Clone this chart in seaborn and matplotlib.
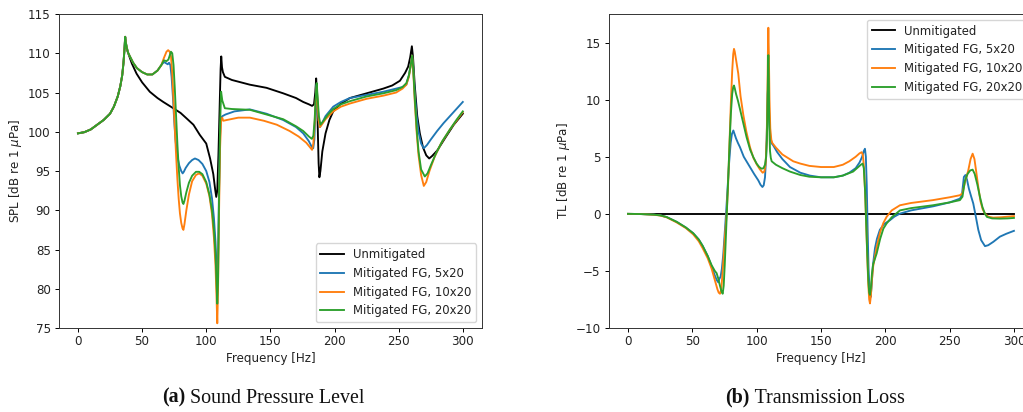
import matplotlib
matplotlib.use("Agg")
import matplotlib.pyplot as plt
import pandas as pd
import seaborn as sns

# ---------------------------------------------------------------
# Sound pressure level [dB re 1 uPa] versus frequency [Hz]
# ---------------------------------------------------------------
spl_common_f = [0, 5, 10, 15, 20, 25, 28, 31, 33, 34.5, 35.5, 36.3, 36.8]
spl_common_v = [99.8, 99.95, 100.3, 100.9, 101.5, 102.3, 103.2, 104.5, 105.8, 107.2, 108.8, 110.6, 112.1]

spl_unmit_f = [37.3, 38, 39.2, 42, 45.7, 50, 56, 62, 66.5, 74.3, 80, 84.7, 90, 95, 100, 103, 105.5, 107,
               107.8, 108.6, 109.5, 110.5, 111.2, 111.7, 112.3, 113, 114.5, 120, 134, 147, 160, 170, 175.6,
               180, 182.5, 184, 185, 185.7, 186.3, 187, 187.6, 188.2, 189, 190.5, 193, 196, 199, 205, 212,
               225, 238, 245, 251, 255, 257.4, 259, 260.3, 261.2, 262.5, 264.5, 266.5, 269, 271.5, 273.8,
               276, 280, 287, 293, 300]
spl_unmit_v = [111.3, 110.6, 110.0, 108.7, 107.4, 106.3, 105.1, 104.3, 103.8, 103.0, 102.4, 101.7, 100.9,
               99.6, 98.5, 96.6, 94.6, 92.6, 91.7, 92.5, 97.0, 103.5, 108.0, 109.6, 108.2, 107.6, 107.0,
               106.6, 106.0, 105.6, 104.9, 104.3, 103.8, 103.5, 103.3, 103.5, 105.0, 106.8, 105.0, 100.0,
               96.0, 94.2, 95.0, 97.5, 99.8, 101.5, 102.6, 103.6, 104.3, 104.9, 105.5, 105.9, 106.5, 107.5,
               108.3, 109.5, 110.9, 109.5, 106.0, 102.0, 99.8, 98.0, 97.0, 96.6, 96.9, 97.6, 99.4, 100.9,
               102.3]

spl_mit_head_f = [37.3, 38, 39, 40.5, 43, 46, 50, 54, 58, 62, 65]
spl_mit_head_v = [111.4, 110.8, 110.1, 109.6, 108.8, 108.1, 107.6, 107.3, 107.3, 107.8, 108.5]

spl_5x20_f = [67, 69, 70, 71, 72, 73, 74, 75, 76, 77, 78, 79, 80.5, 81.6, 82.5, 84, 86.5, 89, 91.2, 94, 97,
              100, 102.5, 104.5, 106, 107.2, 108, 108.6, 109.2, 110, 110.8, 111.6, 112.7, 115, 122, 134,
              147, 160, 170, 175.6, 180, 182.5, 183.4, 184.3, 185.2, 186, 186.7, 187.6, 188.6, 190, 193,
              199, 205, 212, 225, 238, 248, 253, 256, 258, 259.5, 260.5, 261.3, 262.5, 264, 265.5, 267.5,
              269.6, 272, 275, 280, 285, 290, 295, 300]
spl_5x20_v = [108.9, 108.7, 108.6, 108.8, 108.5, 107.0, 104.5, 101.5, 99.0, 97.5, 96.5, 95.7, 95.0, 94.7,
              94.9, 95.4, 96.0, 96.4, 96.6, 96.4, 95.9, 95.0, 93.6, 91.5, 89.0, 86.0, 83.0, 81.0, 84.0,
              93.0, 99.5, 101.8, 102.0, 102.2, 102.6, 102.85, 102.3, 101.5, 100.6, 99.8, 98.8, 98.0, 97.9,
              99.0, 103.0, 106.0, 104.0, 101.5, 100.6, 101.0, 102.0, 103.2, 103.8, 104.3, 104.7, 105.1,
              105.5, 105.7, 106.0, 107.2, 108.6, 109.7, 108.3, 105.0, 102.0, 100.0, 98.5, 97.9, 98.3, 99.0,
              100.1, 101.1, 102.0, 102.9, 103.8]

spl_10x20_f = [67, 69, 70.3, 71.5, 72.5, 73.5, 74.5, 75.5, 76.5, 77.5, 78.5, 79.5, 80.5, 81.5, 82.2, 83, 84.5,
               86.5, 89, 92, 94.5, 97, 100, 102.5, 104.5, 106, 107.2, 108, 108.6, 109.2, 110, 110.8, 111.6,
               112.5, 113.2, 116, 125, 134, 145, 155, 165, 172, 178, 181, 182.5, 183.5, 184.5, 185.5, 186.2,
               186.8, 187.6, 188.6, 190, 193, 199, 205, 212, 225, 238, 248, 253, 256, 258, 259.5, 260.5,
               261.3, 262.5, 264, 265.5, 267.5, 269.6, 271.5, 274, 278, 283, 290, 295, 300]
spl_10x20_v = [109.4, 110.2, 110.4, 110.2, 109.6, 107.5, 104.0, 100.5, 97.0, 94.0, 91.5, 89.6, 88.4, 87.7,
               87.5, 88.2, 90.0, 92.0, 93.7, 94.5, 94.7, 94.4, 93.4, 91.8, 89.5, 86.5, 83.0, 79.0, 75.6,
               80.0, 90.0, 98.0, 101.5, 101.8, 101.4, 101.5, 101.8, 101.8, 101.4, 100.9, 100.1, 99.4, 98.6,
               98.0, 97.7, 98.5, 101.0, 104.5, 105.8, 103.5, 101.5, 100.6, 100.9, 101.6, 102.6, 103.2,
               103.6, 104.2, 104.6, 105.0, 105.5, 106.0, 107.0, 108.5, 109.7, 108.0, 104.0, 100.0, 97.0,
               94.5, 93.1, 93.6, 95.0, 96.8, 98.5, 100.3, 101.4, 102.5]

spl_20x20_f = [67, 69, 70.5, 71.5, 72.5, 73.5, 74.5, 75.5, 76.5, 77.5, 78.5, 79.5, 80.5, 81.5, 82.2, 83, 84.5,
               86.5, 89, 92, 94.5, 97, 100, 102.5, 104.5, 106, 107.2, 108, 108.6, 109.2, 110, 110.8, 111.6,
               112.5, 114.5, 120, 134, 147, 160, 170, 175.6, 180, 182.3, 183.5, 184.5, 185.5, 186.1, 186.8,
               187.8, 189, 191, 195, 199, 205, 212, 225, 238, 248, 253, 256, 258, 259.5, 260.5, 261.3,
               262.5, 264, 265.5, 267.5, 270.4, 272.5, 275, 279, 284, 290, 295, 300]
spl_20x20_v = [109.1, 109.0, 109.2, 109.7, 110.2, 110.0, 108.5, 105.5, 102.0, 98.5, 95.5, 93.2, 91.8, 91.0,
               90.8, 91.2, 92.3, 93.5, 94.4, 94.9, 94.9, 94.6, 93.6, 92.0, 90.0, 87.5, 84.5, 81.0, 78.1,
               81.0, 92.0, 101.0, 105.1, 104.0, 103.0, 102.9, 102.8, 102.2, 101.6, 100.7, 100.1, 99.4,
               99.1, 99.5, 101.5, 104.8, 106.2, 104.5, 102.0, 100.9, 101.3, 102.2, 102.9, 103.5, 103.9,
               104.5, 104.9, 105.3, 105.7, 106.2, 107.2, 108.6, 109.7, 108.3, 104.5, 100.5, 97.5, 95.2,
               94.3, 94.7, 95.7, 97.2, 98.8, 100.3, 101.5, 102.6]

# ---------------------------------------------------------------
# Transmission loss [dB] versus frequency [Hz]
# ---------------------------------------------------------------
tl_unmit_f = [0, 300]
tl_unmit_v = [0.0, 0.0]

tl_5x20_f = [0, 10, 20, 25, 30, 37.8, 45, 50.7, 55, 58, 62, 65, 67.5, 69, 70.2, 71, 72, 73, 74.1, 75, 76.2,
             77.3, 78.5, 79.8, 80.8, 81.9, 82.8, 84, 85.5, 87, 90, 94.8, 98, 101.3, 103, 104.5, 105.5, 106.5,
             107.3, 108, 108.6, 109, 109.4, 109.9, 110.6, 111.5, 112.9, 116, 120, 125.9, 134, 141.4, 150,
             160, 167, 172, 177, 180, 182, 183.3, 184.2, 184.9, 185.6, 186.3, 187, 187.8, 188.6, 189.4,
             190.3, 192, 193.5, 195.8, 199, 203.6, 207, 211.4, 220, 237.3, 250, 258, 259.5, 261.1, 262.3,
             263.5, 265, 266.8, 268.4, 270.3, 272.3, 274.5, 277.5, 280, 284, 289.1, 294, 300]
tl_5x20_v = [0.0, -0.02, -0.07, -0.13, -0.28, -0.7, -1.2, -1.7, -2.25, -2.8, -3.7, -4.6, -5.4, -5.8, -6.0,
             -5.7, -5.5, -4.8, -3.5, -2.0, 0.0, 2.0, 4.3, 6.2, 7.0, 7.3, 7.0, 6.6, 6.2, 5.85, 5.0, 4.1, 3.5,
             2.93, 2.55, 2.35, 2.5, 3.2, 4.8, 7.5, 10.5, 11.2, 10.0, 8.0, 6.8, 6.2, 6.0, 5.4, 4.8, 4.1, 3.6,
             3.35, 3.2, 3.2, 3.35, 3.6, 4.0, 4.5, 5.0, 5.5, 5.7, 5.0, 2.5, -1.5, -4.8, -6.8, -7.3, -6.3,
             -4.6, -3.0, -2.2, -1.4, -0.9, -0.56, -0.25, 0.02, 0.3, 0.66, 1.0, 1.33, 1.6, 3.23, 3.4, 3.0,
             2.2, 1.5, 0.9, -0.2, -1.4, -2.3, -2.83, -2.75, -2.45, -2.0, -1.75, -1.49]

tl_10x20_f = [0, 10, 20, 25, 30, 37.8, 45, 50.7, 55, 58, 62, 65, 67.5, 69.5, 70.5, 71.5, 72.5, 73.5, 74.5,
              75.5, 76.7, 77.8, 79, 80, 81, 81.8, 82.4, 83, 84, 85.7, 87.5, 89.6, 92, 94.8, 97.5, 100, 102.5,
              104.7, 106, 107, 107.8, 108.4, 108.8, 109.1, 109.5, 110, 110.6, 111.4, 112.2, 115, 120, 128.5,
              134, 141, 150, 160, 167, 172, 177, 180, 181.6, 182.5, 183.3, 184.3, 185.2, 186, 186.8, 187.5,
              188.1, 188.8, 189.6, 190.6, 193.3, 196, 198.5, 201, 205, 211.4, 220, 237, 250, 258, 260, 262,
              264.5, 266.3, 267.9, 269.3, 270.8, 272.3, 274, 275.7, 277.5, 280, 283.9, 290, 295, 300]
tl_10x20_v = [0.0, -0.02, -0.08, -0.15, -0.3, -0.75, -1.25, -1.8, -2.4, -3.0, -3.9, -4.8, -5.8, -6.6, -6.9,
              -7.0, -6.6, -5.2, -3.5, -1.8, 0.0, 2.5, 6.5, 9.8, 12.5, 14.0, 14.45, 14.2, 13.5, 12.3, 10.3,
              8.7, 7.2, 5.85, 4.9, 4.35, 3.9, 3.6, 3.7, 4.4, 6.5, 10.5, 14.5, 16.3, 14.0, 10.0, 7.5, 6.5,
              6.2, 5.8, 5.2, 4.6, 4.4, 4.2, 4.1, 4.1, 4.3, 4.6, 5.0, 5.3, 5.4, 5.2, 4.3, 2.0, -1.0, -3.8,
              -6.2, -7.5, -7.85, -7.2, -5.8, -4.6, -2.9, -1.6, -0.8, -0.27, 0.3, 0.75, 0.95, 1.2, 1.45,
              1.63, 1.8, 2.8, 3.8, 4.8, 5.27, 4.8, 3.6, 2.35, 1.1, 0.4, 0.02, -0.25, -0.33, -0.3, -0.25,
              -0.2]

tl_20x20_f = [0, 10, 20, 25, 30, 37.8, 45, 50.7, 55, 58, 62, 65, 67.5, 68.9, 70, 71.5, 72.7, 73.6, 74.4, 75.2,
              76, 76.8, 77.8, 79, 80, 81, 81.8, 82.4, 83, 84, 85.5, 87, 89.5, 92.2, 95, 97.4, 100, 102,
              103.9, 105.3, 106.5, 107.4, 108, 108.5, 108.9, 109.1, 109.4, 109.8, 110.4, 111, 111.7, 115,
              120, 125.9, 134, 141, 150, 160, 167, 175, 179, 181, 182.4, 183.3, 184.3, 185.2, 186, 186.8,
              187.5, 188.1, 188.8, 189.6, 190.6, 193.3, 196, 198.5, 201, 205, 211.4, 220, 237, 250, 258,
              260, 261.9, 264, 266, 267.9, 269.5, 271.5, 273.6, 275.5, 277.5, 279, 283, 289.1, 295, 300]
tl_20x20_v = [0.0, -0.02, -0.07, -0.13, -0.28, -0.7, -1.2, -1.7, -2.25, -2.8, -3.7, -4.5, -5.0, -5.2, -5.6,
              -6.3, -6.8, -7.0, -6.3, -4.5, -2.3, 0.0, 2.8, 6.3, 8.8, 10.5, 11.1, 11.24, 11.0, 10.5, 9.9,
              9.2, 8.0, 6.7, 5.6, 4.97, 4.4, 4.1, 3.95, 4.0, 4.3, 5.0, 6.5, 10.0, 13.0, 13.9, 12.0, 8.0,
              5.5, 4.9, 4.6, 4.3, 4.0, 3.7, 3.4, 3.25, 3.2, 3.2, 3.35, 3.7, 4.1, 4.3, 4.4, 4.0, 2.0, -1.0,
              -3.6, -5.8, -6.9, -7.1, -6.5, -5.3, -4.4, -3.47, -2.2, -1.3, -0.85, -0.3, 0.3, 0.5, 0.75,
              1.0, 1.2, 1.5, 2.9, 3.5, 3.8, 3.87, 3.5, 2.6, 1.48, 0.6, 0.0, -0.27, -0.4, -0.42, -0.4,
              -0.36]

series_names = ["Unmitigated", "Mitigated FG, 5x20", "Mitigated FG, 10x20", "Mitigated FG, 20x20"]
series_colors = ["black", "#1f77b4", "#ff7f0e", "#2ca02c"]

# Compact figure: all axis text at a reduced size
plt.rcParams.update({
    "font.size": 8.6,
    "axes.linewidth": 0.7,
    "xtick.major.size": 2.9,
    "ytick.major.size": 2.9,
    "xtick.major.width": 0.7,
    "ytick.major.width": 0.7,
    "xtick.major.pad": 2.5,
    "ytick.major.pad": 2.9,
    "axes.labelpad": 2.6,
    "text.color": "#222222",
    "axes.labelcolor": "#222222",
    "xtick.labelcolor": "#222222",
    "ytick.labelcolor": "#222222",
    "axes.edgecolor": "#333333",
})


def long_table(pairs, value_name):
    frames = []
    for name, (f, v) in zip(series_names, pairs):
        frames.append(pd.DataFrame({"freq": f, value_name: v, "series": name}))
    return pd.concat(frames, ignore_index=True)


spl_df = long_table([
    (spl_common_f + spl_unmit_f, spl_common_v + spl_unmit_v),
    (spl_common_f + spl_mit_head_f + spl_5x20_f, spl_common_v + spl_mit_head_v + spl_5x20_v),
    (spl_common_f + spl_mit_head_f + spl_10x20_f, spl_common_v + spl_mit_head_v + spl_10x20_v),
    (spl_common_f + spl_mit_head_f + spl_20x20_f, spl_common_v + spl_mit_head_v + spl_20x20_v),
], "spl")

tl_df = long_table([
    (tl_unmit_f, tl_unmit_v),
    (tl_5x20_f, tl_5x20_v),
    (tl_10x20_f, tl_10x20_v),
    (tl_20x20_f, tl_20x20_v),
], "tl")

fig = plt.figure(figsize=(10.23, 4.12), dpi=100)
ax1 = fig.add_axes([0.0574, 0.2039, 0.4138, 0.762])
ax2 = fig.add_axes([0.595, 0.2039, 0.415, 0.762])

palette = dict(zip(series_names, series_colors))

sns.lineplot(data=spl_df, x="freq", y="spl", hue="series", hue_order=series_names,
             palette=palette, estimator=None, sort=False, linewidth=1.35, ax=ax1)
sns.lineplot(data=tl_df, x="freq", y="tl", hue="series", hue_order=series_names,
             palette=palette, estimator=None, sort=False, linewidth=1.35, ax=ax2)

ax1.set_xlim(-15, 315)
ax1.set_ylim(75, 115)
ax1.set_xticks([0, 50, 100, 150, 200, 250, 300])
ax1.set_yticks([75, 80, 85, 90, 95, 100, 105, 110, 115])
ax1.set_xlabel("Frequency [Hz]")
ax1.set_ylabel(r"SPL [dB re 1 $\mu$Pa]")
sns.move_legend(ax1, "lower right", title=None, frameon=True, fontsize=8.4)

ax2.set_xlim(-15, 315)
ax2.set_ylim(-10, 17.5)
ax2.set_xticks([0, 50, 100, 150, 200, 250, 300])
ax2.set_yticks([-10, -5, 0, 5, 10, 15])
ax2.set_xlabel("Frequency [Hz]")
ax2.set_ylabel(r"TL [dB re 1 $\mu$Pa]")
sns.move_legend(ax2, "upper right", title=None, frameon=True, fontsize=8.4)

# Sub-figure captions: bold label followed by plain title
cap_font = {"family": "Liberation Serif", "size": 14.4}
for x0, tag, title in [(0.158, "(a)", "Sound Pressure Level"), (0.709, "(b)", "Transmission Loss")]:
    t = fig.text(x0, 0.022, tag, fontweight="bold", ha="left", va="baseline",
                 color="#111111", **cap_font)
    ax1.annotate(" " + title, xy=(1, 0), xycoords=t, ha="left", va="bottom",
                 annotation_clip=False, color="#111111", **cap_font)

fig.savefig("out.png", dpi=100)
